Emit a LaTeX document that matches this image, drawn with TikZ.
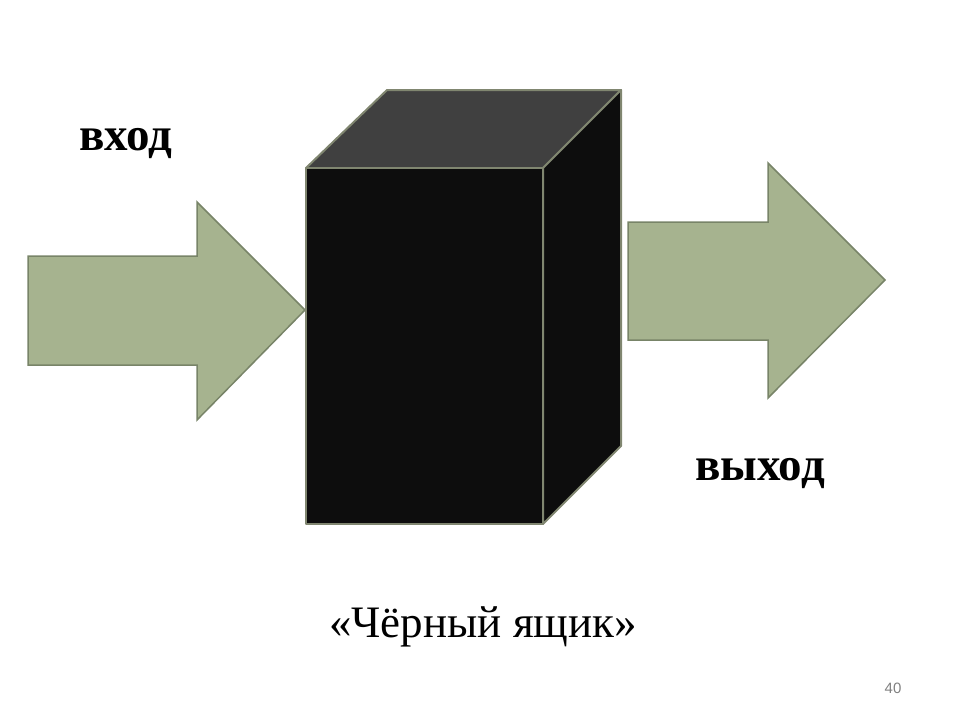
\documentclass[tikz,border=0pt]{standalone}
\usepackage{fontspec}
\setmainfont{Liberation Serif}
\newfontfamily\numfont{Liberation Sans}
\definecolor{arrowfill}{RGB}{166,179,143}
\definecolor{arrowline}{RGB}{120,132,104}
\definecolor{boxfront}{RGB}{13,13,13}
\definecolor{boxtop}{RGB}{64,64,64}
\definecolor{boxline}{RGB}{128,134,112}
\tikzset{
  bigarrow/.style={fill=arrowfill, draw=arrowline, line width=1.5pt, line join=miter},
  boxface/.style={draw=boxline, line width=2pt, line join=round},
  word/.style={font=\fontsize{47}{47}\selectfont\bfseries, anchor=base},
}
\begin{document}
\begin{tikzpicture}[x=1pt, y=-1pt]
  \useasboundingbox (0,0) rectangle (960,720);

  % Box corners
  \coordinate (fa) at (306,168);
  \coordinate (fb) at (543,168);
  \coordinate (fc) at (543,524);
  \coordinate (fd) at (306,524);
  \coordinate (ba) at (387,90);
  \coordinate (bb) at (621,90);
  \coordinate (bc) at (621,446);

  % Input arrow
  \coordinate (intip) at (305,310);
  \draw[bigarrow] (28,256) -- (197,256) -- (197,202) -- (intip)
    -- (197,420) -- (197,365) -- (28,365) -- cycle;

  % Output arrow
  \coordinate (outtip) at (885,280);
  \draw[bigarrow] (628,222) -- (768,222) -- (768,163) -- (outtip)
    -- (768,398) -- (768,340) -- (628,340) -- cycle;

  % Black box
  \draw[boxface, fill=boxtop] (fa) -- (ba) -- (bb) -- (fb) -- cycle;
  \draw[boxface, fill=boxfront] (fb) -- (bb) -- (bc) -- (fc) -- cycle;
  \draw[boxface, fill=boxfront] (fa) rectangle (fc);

  % Labels
  \node[word] (vhod) at (126,150) {вход};
  \node[word] (vyhod) at (760,480) {выход};
  \node[font=\fontsize{45}{45}\selectfont, anchor=base] (title) at (483,637) {«Чёрный ящик»};
  \node[font=\numfont\fontsize{15}{15}\selectfont, text=gray, anchor=base] (page) at (893,693) {40};
\end{tikzpicture}
\end{document}
